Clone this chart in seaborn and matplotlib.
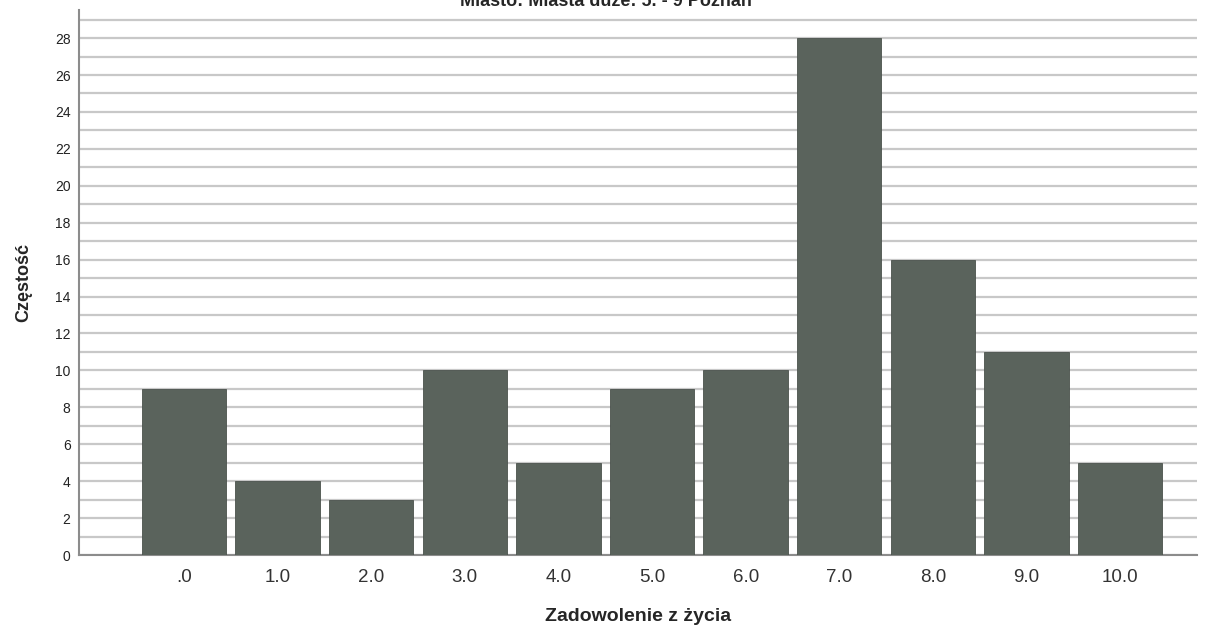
import matplotlib
matplotlib.use("Agg")
import matplotlib.pyplot as plt
import seaborn as sns
import pandas as pd
import matplotlib.ticker as ticker

# dane
kategorie = [".0", "1.0", "2.0", "3.0", "4.0", "5.0", "6.0", "7.0", "8.0", "9.0", "10.0"]
czestosc = [9, 4, 3, 10, 5, 9, 10, 28, 16, 11, 5]
tytul = "Miasto: Miasta duże: 5. - 9 Poznań"

df = pd.DataFrame({"kat": kategorie, "n": czestosc})

sns.set_style("white")
plt.rcParams['font.family'] = ['Liberation Sans', 'DejaVu Sans']

fig = plt.figure(figsize=(12.11, 6.37), dpi=100)
ax = fig.add_axes([0.0652, 0.1287, 0.9232, 0.855])

sns.barplot(data=df, x="kat", y="n", color="#5a635c", width=0.9,
            edgecolor="#4a524c", linewidth=0.6, saturation=1, ax=ax, zorder=3)

ax.set_xlim(-1.12, 10.82)
ax.set_ylim(0, 29.5)
ax.yaxis.set_major_locator(ticker.MultipleLocator(2))
ax.yaxis.set_minor_locator(ticker.MultipleLocator(1))
ax.grid(True, which="both", axis="y", color="#c8c8c8", linewidth=1.6, zorder=0)
ax.set_axisbelow(True)

for s in ["top", "right"]:
    ax.spines[s].set_visible(False)
for s in ["left", "bottom"]:
    ax.spines[s].set_color("#8c8c8c")
    ax.spines[s].set_linewidth(1.5)

ax.tick_params(axis="y", which="both", length=0, labelsize=10, pad=6, labelcolor="#222222")
ax.tick_params(axis="x", length=0, labelsize=13.5, pad=10, labelcolor="#333333")

ax.set_xlabel("Zadowolenie z życia", fontsize=14, fontweight="bold", labelpad=16)
ax.set_ylabel("Częstość", fontsize=13, fontweight="bold", labelpad=16)

# tytuł ucięty u góry, jak w oryginale
fig.text(0.5, 0.997, tytul, ha="center", va="center", fontsize=13, fontweight="bold")

fig.savefig("out.png", dpi=100)
